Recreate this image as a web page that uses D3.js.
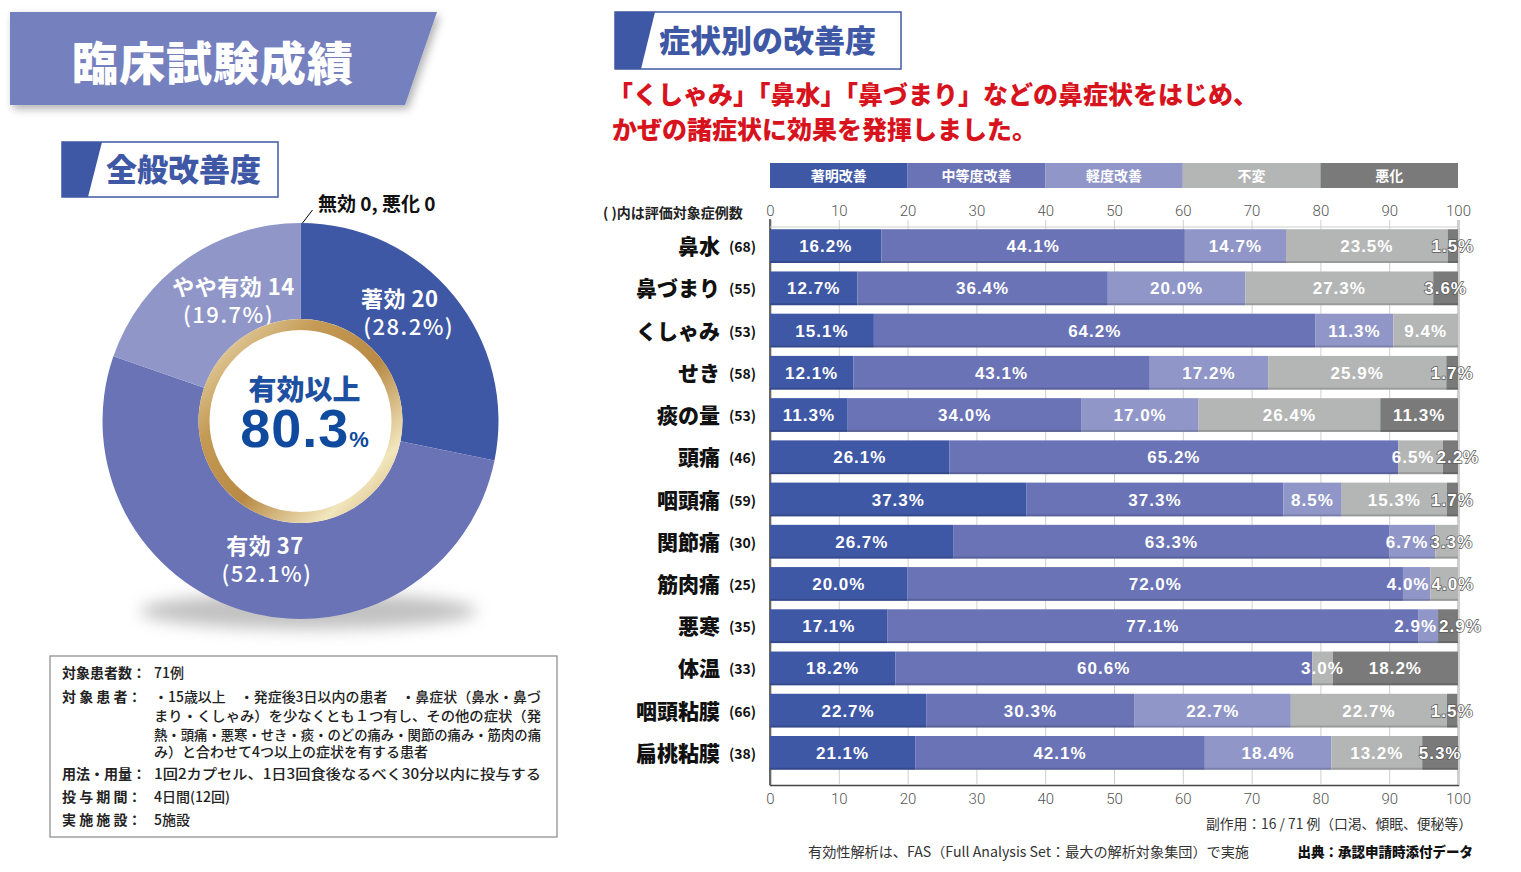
<!DOCTYPE html>
<html>
<head>
<meta charset="utf-8">
<script src="https://cdn.jsdelivr.net/npm/d3@7"></script>
<style>
body{margin:0;background:#fff;}
text{font-family:"Noto Sans CJK JP","Noto Sans",sans-serif;}
.num{font-family:"Liberation Sans",Arial,sans-serif;font-weight:bold;}
.tick text{font-family:"Liberation Sans Narrow","Roboto",sans-serif;font-weight:300;font-size:15px;fill:#555;}
</style>
</head>
<body>
<svg id="chart" width="1521" height="872"></svg>
<script>
// ---- data ----
var levels = ["著明改善","中等度改善","軽度改善","不変","悪化"];
var symptoms = ["鼻水","鼻づまり","くしゃみ","せき","痰の量","頭痛","咽頭痛","関節痛","筋肉痛","悪寒","体温","咽頭粘膜","扁桃粘膜"];
var caseCounts = [68,55,53,58,53,46,59,30,25,35,33,66,38];
var marked   = [16.2,12.7,15.1,12.1,11.3,26.1,37.3,26.7,20.0,17.1,18.2,22.7,21.1];
var moderate = [44.1,36.4,64.2,43.1,34.0,65.2,37.3,63.3,72.0,77.1,60.6,30.3,42.1];
var mild     = [14.7,20.0,11.3,17.2,17.0,0,8.5,6.7,4.0,2.9,0,22.7,18.4];
var unchanged= [23.5,27.3,9.4,25.9,26.4,6.5,15.3,3.3,4.0,0,3.0,22.7,13.2];
var worse    = [1.5,3.6,0,1.7,11.3,2.2,1.7,0,0,2.9,18.2,1.5,5.3];
var xTicks = [0,10,20,30,40,50,60,70,80,90,100];

var overallNames = ["著効","有効","やや有効"];
var overallCounts = [20,37,14];
var overallPct = [28.2,52.1,19.7];
var effectiveRate = 80.3;

var colors = ["#3f58a5","#6a73b5","#9097c8","#b4b6b5","#7a7a7a"];

var svg = d3.select("#chart");
var defs = svg.append("defs");

// shadow filter
var f = defs.append("filter").attr("id","shadow").attr("x","-10%").attr("y","-20%").attr("width","130%").attr("height","150%");
f.append("feDropShadow").attr("dx",3).attr("dy",4).attr("stdDeviation",4).attr("flood-color","#000").attr("flood-opacity",0.3);
var blur = defs.append("filter").attr("id","blur").attr("x","-50%").attr("y","-50%").attr("width","200%").attr("height","200%");
blur.append("feGaussianBlur").attr("stdDeviation",8);

var gold = defs.append("linearGradient").attr("id","gold").attr("x1","0").attr("y1","0").attr("x2","1").attr("y2","1");
gold.append("stop").attr("offset","0%").attr("stop-color","#f3e9c6");
gold.append("stop").attr("offset","30%").attr("stop-color","#c49a55");
gold.append("stop").attr("offset","55%").attr("stop-color","#b88a45");
gold.append("stop").attr("offset","80%").attr("stop-color","#f2e6bd");
gold.append("stop").attr("offset","100%").attr("stop-color","#c9a064");

// ---- left title banner ----
svg.append("path").attr("d","M10,12 L437,12 L405,105 L10,105 Z").attr("fill","#7480bf").attr("filter","url(#shadow)");
svg.append("text").attr("x",213).attr("y",80).attr("text-anchor","middle")
  .attr("font-size",46).attr("font-weight",900).attr("fill","#fff").attr("letter-spacing",1).text("臨床試験成績");

// sub heading boxes
function headBox(x,y,w,h,label,fs){
  svg.append("rect").attr("x",x).attr("y",y).attr("width",w).attr("height",h).attr("fill","#fff").attr("stroke","#3f58a5").attr("stroke-width",1.5);
  svg.append("path").attr("d","M"+x+","+y+" L"+(x+40)+","+y+" L"+(x+26)+","+(y+h)+" L"+x+","+(y+h)+" Z").attr("fill","#3f58a5");
  svg.append("text").attr("x",x+44).attr("y",y+h/2+fs*0.36).attr("font-size",fs).attr("font-weight",900).attr("fill","#3f58a5").text(label);
}
headBox(62,142,216,55,"全般改善度",31);
headBox(615,12,286,57,"症状別の改善度",31);

// ---- donut ----
var cx = 300.5, cy = 421, R = 198, r = 102;
svg.append("ellipse").attr("cx",cx+8).attr("cy",cy+R-8).attr("rx",R*0.85).attr("ry",18).attr("fill","#999").attr("opacity",0.6).attr("filter","url(#blur)");
var pie = d3.pie().sort(null).value(function(d){return d;})(overallPct);
var arc = d3.arc().innerRadius(r).outerRadius(R);
var dg = svg.append("g").attr("transform","translate("+cx+","+cy+")");
dg.selectAll("path.slice").data(pie).enter().append("path").attr("class","slice")
  .attr("d",arc).attr("fill",function(d,i){return colors[i];});

var labelArc = d3.arc().innerRadius(150).outerRadius(150);
var labelOffsets = [[-13,-13],[5,-6],[17,2]];
var lineShift = [[-4,5],[-1,1],[3,-2]];
dg.selectAll("text.lbl").data(pie).enter().append("text").attr("class","lbl").each(function(d,i){
  var c = labelArc.centroid(d);
  var t = d3.select(this).attr("transform","translate("+(c[0]+labelOffsets[i][0])+","+(c[1]+labelOffsets[i][1])+")")
    .attr("text-anchor","middle").attr("font-size",22).attr("fill","#fff");
  t.append("tspan").attr("x",lineShift[i][0]).attr("y",-6).attr("font-weight",700).attr("letter-spacing",0.5)
    .text(overallNames[i]+" "+overallCounts[i]);
  t.append("tspan").attr("x",lineShift[i][1]).attr("y",22).attr("font-weight",500).attr("letter-spacing",1.5)
    .text("("+overallPct[i].toFixed(1)+"%)");
});

// gold ring and centre
dg.append("circle").attr("r",r).attr("fill","url(#gold)");
dg.append("circle").attr("r",91).attr("fill","#fff");
var ct = dg.append("text").attr("text-anchor","middle").attr("fill","#1e50a2");
ct.append("tspan").attr("x",4).attr("y",-21).attr("font-size",28).attr("font-weight",900).text("有効以上");
var big = ct.append("tspan").attr("x",4).attr("y",26).attr("class","num").attr("fill","#0f4a9e");
big.append("tspan").attr("font-size",54).attr("font-weight",900).attr("letter-spacing",1).text(effectiveRate.toFixed(1));
big.append("tspan").attr("font-size",22).text("%");

// none / worse callout
svg.append("line").attr("x1",cx+2).attr("y1",cy-R).attr("x2",cx+12).attr("y2",cy-R-13).attr("stroke","#000").attr("stroke-width",1);
svg.append("text").attr("x",318).attr("y",211).attr("font-size",19).attr("font-weight",700).attr("fill","#111").text("無効 0, 悪化 0");

// ---- note box ----
svg.append("rect").attr("x",50).attr("y",656).attr("width",507).attr("height",181).attr("fill","#fff").attr("stroke","#888").attr("stroke-width",1.2);
var notes = [
  [678,"対象患者数：","71例"],
  [702,"対 象 患 者：","・15歳以上　・発症後3日以内の患者　・鼻症状（鼻水・鼻づ"],
  [721,"","まり・くしゃみ）を少なくとも１つ有し、その他の症状（発"],
  [740,"","熱・頭痛・悪寒・せき・痰・のどの痛み・関節の痛み・筋肉の痛"],
  [757,"","み）と合わせて4つ以上の症状を有する患者"],
  [779,"用法・用量：","1回2カプセル、1日3回食後なるべく30分以内に投与する"],
  [802,"投 与 期 間：","4日間(12回)"],
  [825,"実 施 施 設：","5施設"]
];
notes.forEach(function(n){
  if(n[1]) svg.append("text").attr("x",62).attr("y",n[0]).attr("font-size",14).attr("font-weight",700).attr("fill","#222").text(n[1]);
  svg.append("text").attr("x",154).attr("y",n[0]).attr("font-size",14).attr("font-weight",500).attr("fill","#222")
    .attr("textLength",n[2].length>20?387:null).attr("lengthAdjust","spacingAndGlyphs").text(n[2]);
});

// ---- right: headline ----
svg.append("text").attr("x",608).attr("y",104).attr("font-size",25).attr("font-weight",900).attr("fill","#d7141e")
  .text("「くしゃみ」「鼻水」「鼻づまり」などの鼻症状をはじめ、");
svg.append("text").attr("x",612).attr("y",139).attr("font-size",25).attr("font-weight",900).attr("fill","#d7141e")
  .text("かぜの諸症状に効果を発揮しました。");

// ---- stacked bars ----
var x = d3.scaleLinear().domain([0,100]).range([770,1458]);
var y = d3.scaleBand().domain(symptoms).range([225,774]).paddingInner(0.2).paddingOuter(0.1);

// legend
var lw = (x(100)-x(0))/levels.length;
var lg = svg.append("g");
levels.forEach(function(l,i){
  lg.append("rect").attr("x",x(0)+i*lw).attr("y",163).attr("width",lw).attr("height",25).attr("fill",colors[i]);
  lg.append("text").attr("x",x(0)+i*lw+lw/2).attr("y",181).attr("text-anchor","middle").attr("font-size",14).attr("font-weight",700).attr("fill","#fff").text(l);
});

// axes
var gb = svg.append("g").attr("transform","translate(0,785)")
  .call(d3.axisBottom(x).tickValues(xTicks).tickSize(-(785-220)).tickPadding(8));
gb.selectAll(".tick line").attr("stroke","#cfcfcf");
gb.select(".domain").attr("stroke","#444").attr("stroke-width",1.5);
var gt = svg.append("g").attr("transform","translate(0,219)")
  .call(d3.axisTop(x).tickValues(xTicks).tickSize(0).tickPadding(3));
gt.select(".domain").remove();
svg.append("line").attr("x1",x(0)).attr("x2",x(0)).attr("y1",219).attr("y2",785).attr("stroke","#444").attr("stroke-width",1.5);
svg.append("line").attr("x1",x(0)).attr("x2",x(100)).attr("y1",227).attr("y2",227).attr("stroke","#cfcfcf");

svg.append("text").attr("x",603).attr("y",218).attr("font-size",14).attr("font-weight",700).attr("fill","#222").text("( )内は評価対象症例数");

var series = [marked,moderate,mild,unchanged,worse];
var rows = symptoms.map(function(s,i){
  var o = {name:s}; levels.forEach(function(l,k){o[l]=series[k][i];}); return o;
});
var stacked = d3.stack().keys(levels)(rows);

var bars = svg.append("g");
stacked.forEach(function(layer,k){
  bars.selectAll(null).data(layer).enter().append("rect")
    .attr("x",function(d){return x(d[0]);})
    .attr("y",function(d){return y(d.data.name);})
    .attr("width",function(d){return Math.max(0,Math.min(x(d[1]),x(100))-x(d[0]));})
    .attr("height",y.bandwidth())
    .attr("fill",colors[k]);
});
// bottom bevel
bars.selectAll(null).data(symptoms).enter().append("rect")
  .attr("x",x(0)).attr("y",function(d){return y(d)+y.bandwidth()-2;})
  .attr("width",x(100)-x(0)).attr("height",2).attr("fill","#000").attr("opacity",0.15);

// value labels, nudged apart where neighbouring segments are too narrow
var lab = svg.append("g");
rows.forEach(function(row,i){
  var items = [];
  stacked.forEach(function(layer,k){
    var d = layer[i], v = d[1]-d[0];
    if(v>0) items.push({x:(x(d[0])+Math.min(x(d[1]),x(100)))/2, v:v});
  });
  var texts = items.map(function(it){
    return lab.append("text").attr("class","num")
      .attr("y",y(row.name)+y.bandwidth()/2+6)
      .attr("text-anchor","middle").attr("font-size",17).attr("letter-spacing",1).attr("fill","#fff")
      .attr("paint-order","stroke").attr("stroke-width",1.4)
      .text(it.v.toFixed(1)+"%");
  });
  items.forEach(function(it,j){ it.w = texts[j].node().getComputedTextLength(); });
  for(var iter=0; iter<20; iter++){
    for(var j=0; j<items.length-1; j++){
      var a = items[j], b = items[j+1];
      var ov = (a.x + a.w/2 + 2) - (b.x - b.w/2);
      if(ov>0){ a.x -= ov/2; b.x += ov/2; }
    }
  }
  texts.forEach(function(t,j){
    var it = items[j];
    t.attr("x",it.x).attr("stroke",(it.x + it.w/2 > x(100)+2) ? "#5a5a5a" : "none");
  });
});

// category labels
var cl = svg.append("g");
symptoms.forEach(function(s,i){
  cl.append("text").attr("x",720).attr("y",y(s)+y.bandwidth()/2+8).attr("text-anchor","end")
    .attr("font-size",21).attr("font-weight",900).attr("fill","#111").text(s);
  cl.append("text").attr("x",729).attr("y",y(s)+y.bandwidth()/2+6).attr("font-size",14).attr("font-weight",700).attr("fill","#111").text("("+caseCounts[i]+")");
});

// footer
svg.append("text").attr("x",1472).attr("y",829).attr("text-anchor","end").attr("font-size",13.8).attr("fill","#333").text("副作用：16 / 71 例（口渇、傾眠、便秘等）");
svg.append("text").attr("x",808).attr("y",857).attr("font-size",14).attr("fill","#333").attr("textLength",441).attr("lengthAdjust","spacingAndGlyphs").text("有効性解析は、FAS（Full Analysis Set：最大の解析対象集団）で実施");
svg.append("text").attr("x",1473).attr("y",857).attr("text-anchor","end").attr("font-size",13.5).attr("font-weight",900).attr("fill","#111").text("出典：承認申請時添付データ");
</script>
</body>
</html>
